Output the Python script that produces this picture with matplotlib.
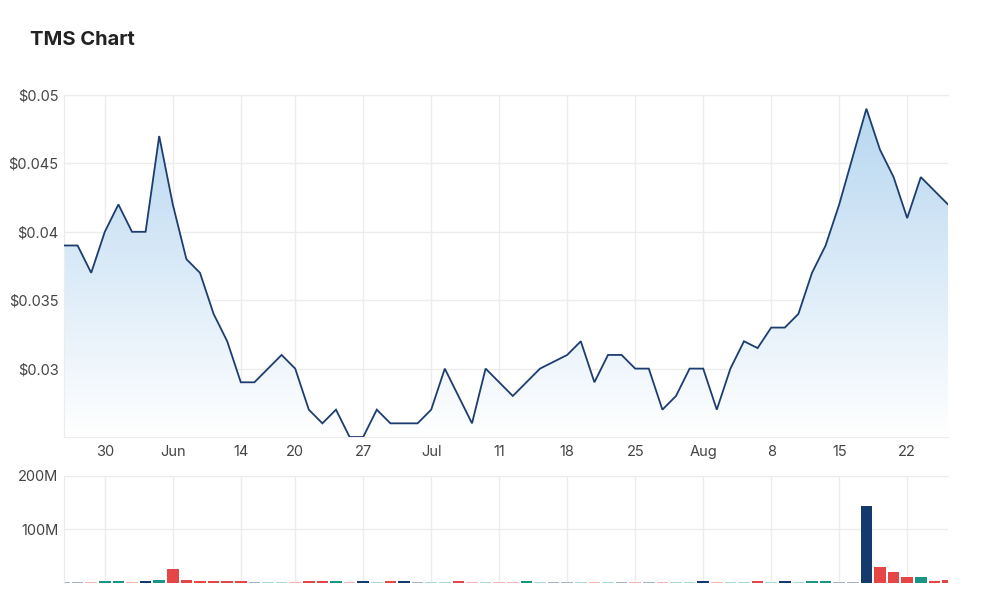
import numpy as np
import pandas as pd
import matplotlib
matplotlib.use("Agg")
import matplotlib.pyplot as plt
from matplotlib.colors import LinearSegmentedColormap

plt.rcParams['font.family'] = ['Inter', 'DejaVu Sans']

# trading days (ASX), Queen's birthday holiday removed
dates = pd.bdate_range('2022-05-25', '2022-08-25')
dates = dates[dates != pd.Timestamp('2022-06-13')]

# closing price ($)
close = [0.039, 0.039, 0.037, 0.040, 0.042, 0.040, 0.040, 0.047, 0.042, 0.038,
         0.037, 0.034, 0.032, 0.029, 0.029, 0.030, 0.031, 0.030, 0.027, 0.026,
         0.027, 0.025, 0.025, 0.027, 0.026, 0.026, 0.026, 0.027, 0.030, 0.028,
         0.026, 0.030, 0.029, 0.028, 0.029, 0.030, 0.0305, 0.031, 0.032, 0.029,
         0.031, 0.031, 0.030, 0.030, 0.027, 0.028, 0.030, 0.030, 0.027, 0.030,
         0.032, 0.0315, 0.033, 0.033, 0.034, 0.037, 0.039, 0.042, 0.0455, 0.049,
         0.046, 0.044, 0.041, 0.044, 0.043, 0.042]

# volume (millions of shares)
volume = [2, 2, 2, 3.5, 3.5, 2, 3.5, 5, 26, 5,
          3.5, 3.5, 3.5, 3.5, 2, 2, 2, 2, 3.5, 3.5,
          3.5, 2, 3.5, 2, 3.5, 3.5, 2, 2, 2, 3.5,
          2, 2, 2, 2, 3.5, 2, 2, 2, 2, 2,
          2, 2, 2, 2, 2, 2, 2, 3.5, 2, 2,
          2, 3.5, 2, 3.5, 2, 3.5, 3.5, 2, 2, 143,
          30, 20, 12, 11, 4.5, 6]

# bar colour: u = up day, d = down day, f = flat
vol_dir = ['f', 'f', 'd', 'u', 'u', 'd', 'f', 'u', 'd', 'd',
           'd', 'd', 'd', 'd', 'f', 'u', 'u', 'd', 'd', 'd',
           'u', 'd', 'f', 'u', 'd', 'f', 'f', 'u', 'u', 'd',
           'd', 'u', 'd', 'd', 'u', 'u', 'f', 'f', 'u', 'd',
           'u', 'f', 'd', 'f', 'd', 'u', 'u', 'f', 'd', 'u',
           'u', 'd', 'u', 'f', 'u', 'u', 'u', 'f', 'f', 'f',
           'd', 'd', 'd', 'u', 'd', 'd']

tick_dates = ['2022-05-30', '2022-06-06', '2022-06-14', '2022-06-20', '2022-06-27',
              '2022-07-04', '2022-07-11', '2022-07-18', '2022-07-25', '2022-08-01',
              '2022-08-08', '2022-08-15', '2022-08-22']
tick_labels = ['30', 'Jun', '14', '20', '27', 'Jul', '11', '18', '25', 'Aug', '8', '15', '22']

price_ticks = [0.03, 0.035, 0.04, 0.045, 0.05]
price_labels = ['$0.03', '$0.035', '$0.04', '$0.045', '$0.05']
vol_ticks = [100, 200]
vol_labels = ['100M', '200M']

x = np.arange(len(dates))
tick_pos = [dates.get_loc(pd.Timestamp(d)) for d in tick_dates]

line_col = '#1d3d70'
dark = {'u': '#1a9686', 'd': '#e64545', 'f': '#14396c'}
light = {'u': '#a9dbd3', 'd': '#f6b3b3', 'f': '#a6b2cc'}
grid_col = '#ececec'
text_col = '#444444'

fig = plt.figure(figsize=(10, 6.09), dpi=100)
ax = fig.add_axes([0.064, 0.2824, 0.884, 0.5616])
axv = fig.add_axes([0.064, 0.0427, 0.884, 0.1757])

ymin, ymax = 0.025, 0.05

# gradient fill under the price line
cmap = LinearSegmentedColormap.from_list('fillgrad', ['#ffffff', '#b4d5f0'])
grad = np.linspace(0, 1, 256).reshape(-1, 1)
im = ax.imshow(grad, aspect='auto', cmap=cmap, origin='lower',
               extent=[0, len(x) - 1, ymin, ymax], zorder=1)
poly = ax.fill_between(x, close, ymin, color='none', lw=0)
clip = poly.get_paths()[0]
im.set_clip_path(clip, transform=ax.transData)
ax.plot(x, close, color=line_col, lw=1.3, zorder=3, solid_joinstyle='miter')

ax.set_xlim(0, len(x) - 1)
ax.set_ylim(ymin, ymax)
ax.set_yticks(price_ticks)
ax.set_yticklabels(price_labels)
ax.set_xticks(tick_pos)
ax.set_xticklabels(tick_labels)
ax.grid(True, color=grid_col, lw=1, zorder=0)
ax.set_axisbelow(True)

# volume bars
bar_cols = [dark[d] if v >= 3 else light[d] for v, d in zip(volume, vol_dir)]
axv.bar(x, volume, width=0.86, color=bar_cols, lw=0, zorder=2)
axv.set_xlim(0, len(x) - 1)
axv.set_ylim(0, 200)
axv.set_yticks(vol_ticks)
axv.set_yticklabels(vol_labels)
axv.set_xticks(tick_pos)
axv.set_xticklabels([])
axv.grid(True, color=grid_col, lw=1, zorder=0)
axv.set_axisbelow(True)

for a in (ax, axv):
    a.spines['right'].set_visible(False)
    for s in ('left', 'top', 'bottom'):
        a.spines[s].set_color(grid_col)
    a.tick_params(length=0, labelsize=10.5, labelcolor=text_col, pad=6)
    a.tick_params(axis='y', pad=4)
axv.spines['bottom'].set_visible(False)

fig.text(0.030, 0.934, 'TMS Chart', fontsize=14.5, fontweight='bold',
         color='#222222', va='center', ha='left')

fig.savefig('out.png', dpi=100)
